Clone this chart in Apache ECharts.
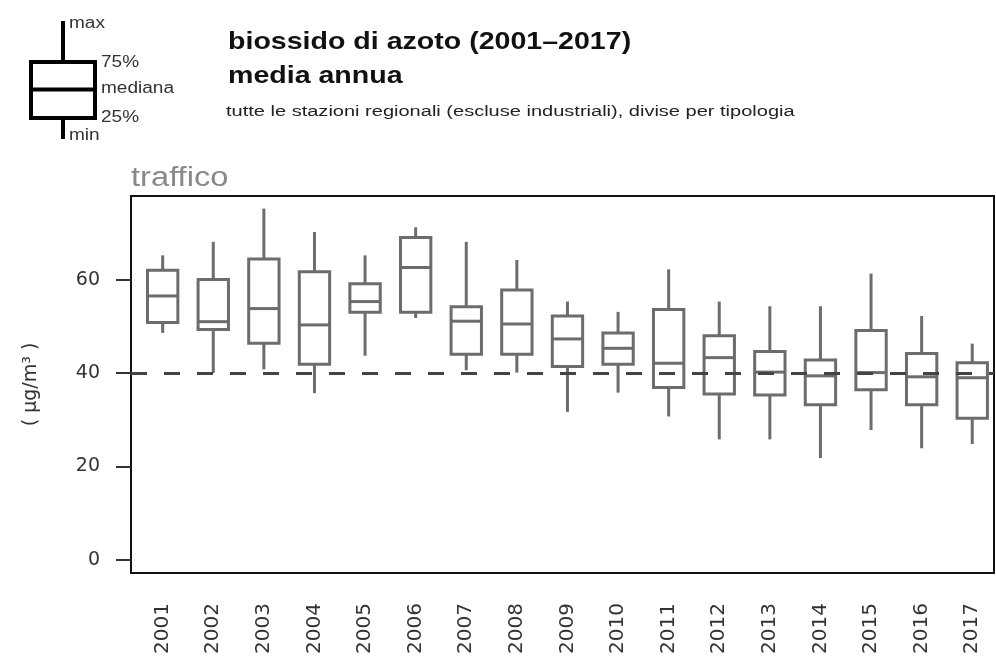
<!DOCTYPE html>
<html>
<head>
<meta charset="utf-8">
<script src="https://cdn.jsdelivr.net/npm/echarts@6/dist/echarts.min.js"></script>
<style>
  html, body { margin: 0; padding: 0; background: #fff; }
  #chart { width: 996px; height: 657px; }
</style>
</head>
<body>
<div id="chart"></div>
<script>
// NO2 annual means, traffic stations (boxplot summary per year)
const years = ['2001', '2002', '2003', '2004', '2005', '2006', '2007', '2008', '2009',
  '2010', '2011', '2012', '2013', '2014', '2015', '2016', '2017'];
const minVals = [48.6, 40.0, 40.8, 35.7, 43.7, 51.8, 40.6, 40.1, 31.7, 35.8, 30.7, 25.8, 25.8, 21.8, 27.8, 23.9, 24.8];
const q1Vals  = [50.8, 49.3, 46.4, 41.9, 53.0, 53.0, 44.0, 44.0, 41.4, 41.9, 36.9, 35.5, 35.3, 33.2, 36.4, 33.2, 30.3];
const medVals = [56.5, 51.0, 53.8, 50.3, 55.3, 62.6, 51.1, 50.5, 47.3, 45.3, 42.1, 43.3, 40.2, 39.4, 40.1, 39.2, 39.0];
const q3Vals  = [62.0, 60.0, 64.4, 61.7, 59.1, 69.0, 54.2, 57.8, 52.2, 48.6, 53.6, 48.0, 44.6, 42.8, 49.1, 44.2, 42.2];
const maxVals = [65.2, 68.1, 75.2, 70.2, 65.2, 71.2, 68.1, 64.2, 55.3, 53.1, 62.2, 55.3, 54.3, 54.3, 61.3, 52.2, 46.3];
const yTicks = [0, 20, 40, 60];
const limitValue = 40;

const chart = echarts.init(document.getElementById('chart'));

const boxData = years.map((y, i) => [i + 1, minVals[i], q1Vals[i], medVals[i], q3Vals[i], maxVals[i]]);
const xPositions = years.map((y, i) => i + 1);

const renderBox = (params, api) => {
  const x = api.value(0);
  const half = 0.3;
  const pMin = api.coord([x, api.value(1)]);
  const pQ1 = api.coord([x, api.value(2)]);
  const pMed = api.coord([x, api.value(3)]);
  const pQ3 = api.coord([x, api.value(4)]);
  const pMax = api.coord([x, api.value(5)]);
  const left = api.coord([x - half, 0])[0];
  const right = api.coord([x + half, 0])[0];
  const style = { stroke: '#6c6c6c', lineWidth: 3, fill: 'none' };
  return {
    type: 'group',
    children: [
      { type: 'line', shape: { x1: pMax[0], y1: pMax[1], x2: pQ3[0], y2: pQ3[1] }, style: style },
      { type: 'line', shape: { x1: pQ1[0], y1: pQ1[1], x2: pMin[0], y2: pMin[1] }, style: style },
      { type: 'rect', shape: { x: left, y: pQ3[1], width: right - left, height: pQ1[1] - pQ3[1] }, style: style },
      { type: 'line', shape: { x1: left, y1: pMed[1], x2: right, y2: pMed[1] }, style: style }
    ]
  };
};

// text helper for the header / legend
const label = (text, x, y, font, scaleX, fill) => ({
  type: 'text',
  x: x,
  y: y,
  scaleX: scaleX,
  style: {
    text: text,
    font: font + ' "Liberation Sans", Arial, sans-serif',
    fill: fill,
    verticalAlign: 'middle'
  }
});

const legendStroke = { stroke: '#000', lineWidth: 4, fill: 'none' };

const option = {
  animation: false,
  grid: {
    left: 131,
    right: 2,
    top: 196,
    bottom: 84,
    show: true,
    borderColor: '#111',
    borderWidth: 2,
    backgroundColor: 'transparent'
  },
  xAxis: {
    type: 'value',
    min: 0.374,
    max: 17.43,
    axisLine: { show: false },
    splitLine: { show: false },
    axisTick: { show: false },
    axisLabel: {
      customValues: xPositions,
      formatter: v => years[Math.round(v) - 1],
      rotate: 90,
      margin: 30,
      fontFamily: 'DejaVu Sans',
      fontSize: 20,
      color: '#333'
    }
  },
  yAxis: {
    type: 'value',
    min: -2.8,
    max: 77.9,
    axisLine: { show: false },
    splitLine: { show: false },
    axisTick: {
      show: true,
      customValues: yTicks,
      length: 15,
      lineStyle: { color: '#333', width: 2 }
    },
    axisLabel: {
      customValues: yTicks,
      margin: 31,
      fontFamily: 'DejaVu Sans',
      fontSize: 19,
      color: '#333'
    },
    name: '( µg/m³ )',
    nameLocation: 'middle',
    nameRotate: 90,
    nameGap: 90,
    nameTextStyle: { fontFamily: 'DejaVu Sans', fontSize: 19, color: '#333' }
  },
  series: [
    {
      type: 'custom',
      renderItem: renderBox,
      encode: { x: 0, y: [1, 2, 3, 4, 5] },
      data: boxData,
      z: 2
    },
    {
      type: 'line',
      data: [],
      z: 5,
      markLine: {
        silent: true,
        symbol: 'none',
        label: { show: false },
        lineStyle: { type: [16, 17], color: '#444', width: 3 },
        data: [{ yAxis: limitValue }]
      }
    }
  ],
  graphic: [
    // legend box icon
    { type: 'line', shape: { x1: 63, y1: 21, x2: 63, y2: 62 }, style: legendStroke },
    { type: 'line', shape: { x1: 63, y1: 118, x2: 63, y2: 139 }, style: legendStroke },
    { type: 'rect', shape: { x: 31, y: 62, width: 64, height: 56 }, style: legendStroke },
    { type: 'line', shape: { x1: 31, y1: 89.5, x2: 95, y2: 89.5 }, style: legendStroke },
    label('max', 69, 24, '16px', 1.19, '#333'),
    label('75%', 101, 63, '16px', 1.19, '#333'),
    label('mediana', 101, 89, '16px', 1.19, '#333'),
    label('25%', 101, 118, '16px', 1.19, '#333'),
    label('min', 69, 136, '16px', 1.19, '#333'),
    // header
    label('biossido di azoto (2001\u20132017)', 228, 42, 'bold 24px', 1.19, '#111'),
    label('media annua', 228, 76, 'bold 24px', 1.19, '#111'),
    label('tutte le stazioni regionali (escluse industriali), divise per tipologia', 226, 112, '14px', 1.43, '#222'),
    label('traffico', 131, 179, '27px', 1.21, '#888')
  ]
};

chart.setOption(option);
</script>
</body>
</html>
